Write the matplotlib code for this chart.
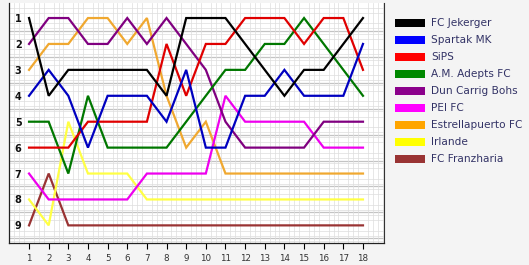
import matplotlib.pyplot as plt
from matplotlib.patches import Rectangle
from matplotlib.ticker import MultipleLocator

# Data setup
rounds = list(range(1, 19))
teams = ['FC Jekerger', 'Spartak MK', 'SiPS', 'A.M. Adepts FC', 'Dun Carrig Bohs',
         'PEI FC', 'Estrellapuerto FC', 'Irlande', 'FC Franzharia']
colors = ['#000000', '#0000FF', '#FF0000', '#008800', '#8B008B',
          '#FF00FF', '#FFA500', '#FFFF00', '#993333']
line_colors = ['#000000', '#0000C0', '#E00000', '#007700', '#800080',
               '#EE00EE', '#F0A830', '#FFFF44', '#993333']

jekerger = [1, 4, 3, 3, 3, 3, 3, 4, 1, 1, 1, 2, 3, 4, 3, 3, 2, 1]
spartak = [4, 3, 4, 6, 4, 4, 4, 5, 3, 6, 6, 4, 4, 3, 4, 4, 4, 2]
sips = [6, 6, 6, 5, 5, 5, 5, 2, 4, 2, 2, 1, 1, 1, 2, 1, 1, 3]
adepts = [5, 5, 7, 4, 6, 6, 6, 6, 5, 4, 3, 3, 2, 2, 1, 2, 3, 4]
dun_carrig = [2, 1, 1, 2, 2, 1, 2, 1, 2, 3, 5, 6, 6, 6, 6, 5, 5, 5]
pei = [7, 8, 8, 8, 8, 8, 7, 7, 7, 7, 4, 5, 5, 5, 5, 6, 6, 6]
estrellapuerto = [3, 2, 2, 1, 1, 2, 1, 4, 6, 5, 7, 7, 7, 7, 7, 7, 7, 7]
irlande = [8, 9, 5, 7, 7, 7, 8, 8, 8, 8, 8, 8, 8, 8, 8, 8, 8, 8]
franzharia = [9, 7, 9, 9, 9, 9, 9, 9, 9, 9, 9, 9, 9, 9, 9, 9, 9, 9]
positions = [jekerger, spartak, sips, adepts, dun_carrig, pei,
             estrellapuerto, irlande, franzharia]

fig = plt.figure(figsize=(5.29, 2.65), dpi=100, facecolor='#F4F4F4')
ax = fig.add_axes([9 / 529, 22 / 265, 375 / 529, 240 / 265])
ax.set_facecolor('white')

# Plot lines (last team drawn first so the first team sits on top)
for pos, c in reversed(list(zip(positions, line_colors))):
    ax.plot(rounds, pos, color=c, lw=1.6, solid_joinstyle='miter', zorder=3)

ax.set_xlim(-0.02, 19.07)
ax.set_ylim(9.68, 0.42)

# Grid: fine minor grid plus darker lines between ranks
ax.xaxis.set_minor_locator(MultipleLocator(0.25))
ax.yaxis.set_minor_locator(MultipleLocator(0.2))
ax.grid(which='minor', color='#DDDDDD', lw=0.5, zorder=0)
for r in range(1, 10):
    ax.axhline(r + 0.5, color='#C4C4C4', lw=0.9, zorder=1)

ax.set_xticks(rounds)
ax.set_xticklabels([str(r) for r in rounds], fontsize=6.3, color='#333333')
ax.set_yticks(range(1, 10))
ax.set_yticklabels([str(r) for r in range(1, 10)], fontsize=7,
                   fontweight='bold', color='#111111')
ax.tick_params(axis='x', which='major', length=4, width=0.8, pad=4)
ax.tick_params(axis='y', which='major', length=0, pad=-9)
ax.tick_params(which='minor', length=0)

ax.spines['top'].set_visible(False)
ax.spines['right'].set_color('#333333')
ax.spines['right'].set_linewidth(0.8)
ax.spines['left'].set_color('#222222')
ax.spines['left'].set_linewidth(0.9)
ax.spines['bottom'].set_color('#222222')
ax.spines['bottom'].set_linewidth(0.9)

# Legend drawn in figure pixels
W, H = 529, 265
for i, (name, c) in enumerate(zip(teams, colors)):
    yc = 23 + i * 17
    fig.add_artist(Rectangle((395 / W, (H - yc - 4) / H), 30 / W, 8 / H,
                             transform=fig.transFigure, color=c, lw=0))
    fig.text(431 / W, (H - yc) / H, name, fontsize=7.6, color='#333366',
             va='center', ha='left')

fig.savefig('out.png', dpi=100, facecolor=fig.get_facecolor())
